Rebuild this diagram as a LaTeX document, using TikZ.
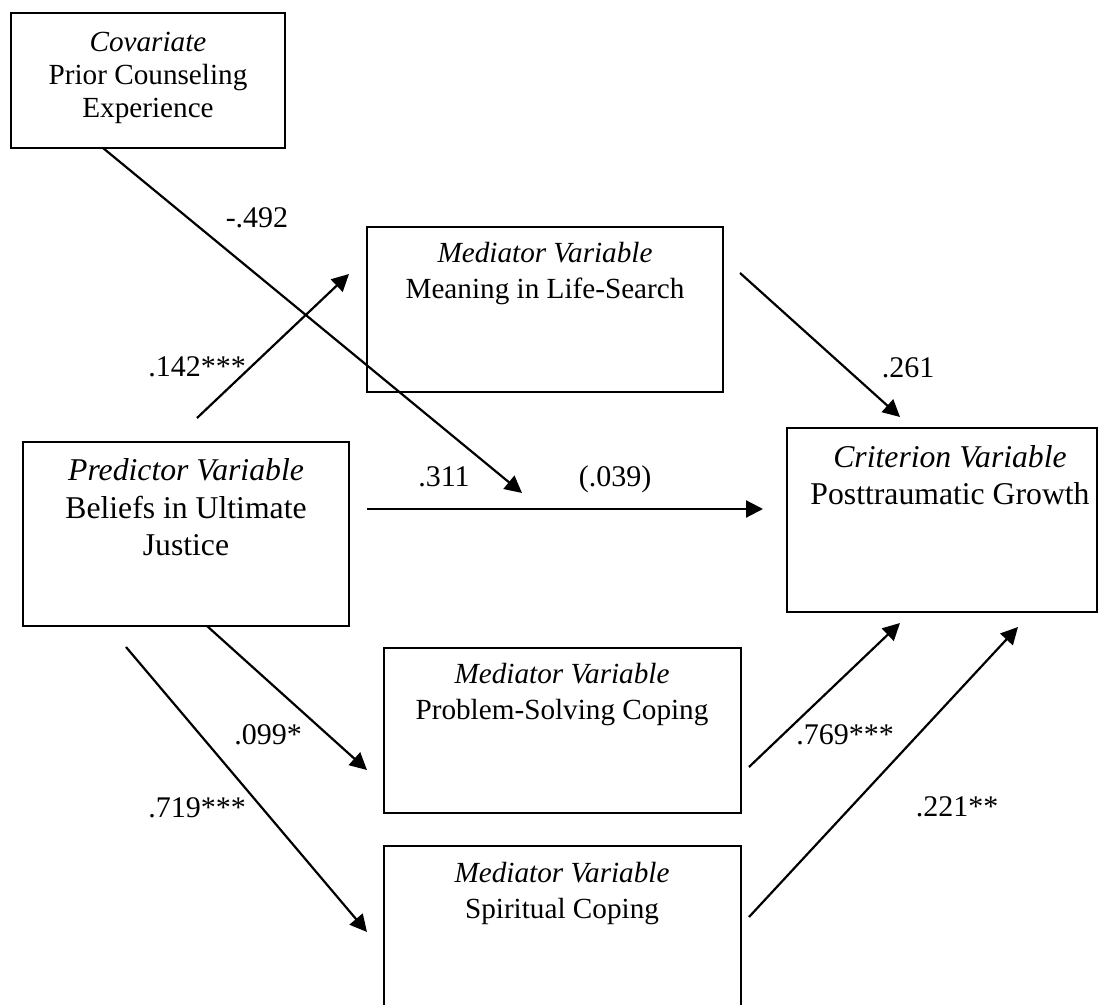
\documentclass[tikz,border=0pt]{standalone}
\usepackage{fontspec}
\setmainfont{Liberation Serif}
\usetikzlibrary{arrows.meta}
\begin{document}
\begin{tikzpicture}[x=0.5pt,y=-0.5pt,
  box/.style={draw, line width=1pt, rectangle, inner sep=0pt},
  txt/.style={align=center, anchor=base, inner sep=0pt},
  bigtxt/.style={txt, font=\fontsize{15.85pt}{18.75pt}\selectfont},
  midtxt/.style={txt, font=\fontsize{14.6pt}{18pt}\selectfont},
  covtxt/.style={txt, font=\fontsize{14.6pt}{16.5pt}\selectfont},
  lbl/.style={anchor=base, inner sep=0pt, font=\fontsize{15pt}{18pt}\selectfont},
  arr/.style={line width=1.1pt, -{Triangle[length=8.5pt,width=8.5pt]}}]
\useasboundingbox (0,0) rectangle (1099,1005);
\clip (0,0) rectangle (1099,1005);

% variable boxes
\node[box, minimum width=137pt, minimum height=67.5pt] (cov) at (148,80.5) {};
\node[box, minimum width=163pt, minimum height=92pt] (pred) at (186,534) {};
\node[box, minimum width=178pt, minimum height=82.5pt] (mean) at (545,309.5) {};
\node[box, minimum width=155pt, minimum height=92pt] (crit) at (942,520) {};
\node[box, minimum width=178.5pt, minimum height=82.5pt] (prob) at (562.5,730.5) {};
\node[box, minimum width=178.5pt, minimum height=82.5pt] (spir) at (562.5,928.5) {};

% box texts (placed by the baseline of their last line)
\node[covtxt] (covt) at (148,118) {\textit{Covariate}\\Prior Counseling\\Experience};
\node[bigtxt] (predt) at (186,556) {\textit{Predictor Variable}\\Beliefs in Ultimate\\Justice};
\node[midtxt] (meant) at (545,299) {\textit{Mediator Variable}\\Meaning in Life-Search};
\node[bigtxt, font=\fontsize{15.85pt}{18.5pt}\selectfont] (critt) at (950,505) {\textit{Criterion Variable}\\Posttraumatic Growth};
\node[midtxt] (probt) at (562,719) {\textit{Mediator Variable}\\Problem-Solving Coping};
\node[midtxt] (spirt) at (562,918) {\textit{Mediator Variable}\\Spiritual Coping};

% path end points
\coordinate (covfoot) at (103,148);
\coordinate (covtip)  at (522,493);
\coordinate (aStart)  at (197,418);
\coordinate (aTip)    at (349,274);
\coordinate (cStart)  at (367,509);
\coordinate (cTip)    at (763,509);
\coordinate (bStart)  at (740,273);
\coordinate (bTip)    at (900,417);
\coordinate (psStart) at (207,626);
\coordinate (psTip)   at (367,770);
\coordinate (spStart) at (126,647);
\coordinate (spTip)   at (367,932);
\coordinate (pbStart) at (749,767);
\coordinate (pbTip)   at (900,623);
\coordinate (sbStart) at (749,917);
\coordinate (sbTip)   at (1018,627);

% paths
\draw[arr] (covfoot) -- (covtip);
\draw[arr] (aStart) -- (aTip);
\draw[arr] (cStart) -- (cTip);
\draw[arr] (bStart) -- (bTip);
\draw[arr] (psStart) -- (psTip);
\draw[arr] (spStart) -- (spTip);
\draw[arr] (pbStart) -- (pbTip);
\draw[arr] (sbStart) -- (sbTip);

% coefficients
\node[lbl] (l1) at (257,228) {-.492};
\node[lbl] (l2) at (197,377) {.142***};
\node[lbl] (l3) at (444,487) {.311};
\node[lbl] (l4) at (615,487) {(.039)};
\node[lbl] (l5) at (908,378) {.261};
\node[lbl] (l6) at (268,745) {.099*};
\node[lbl] (l7) at (197,818) {.719***};
\node[lbl] (l8) at (845,745) {.769***};
\node[lbl] (l9) at (957,817) {.221**};
\end{tikzpicture}
\end{document}
